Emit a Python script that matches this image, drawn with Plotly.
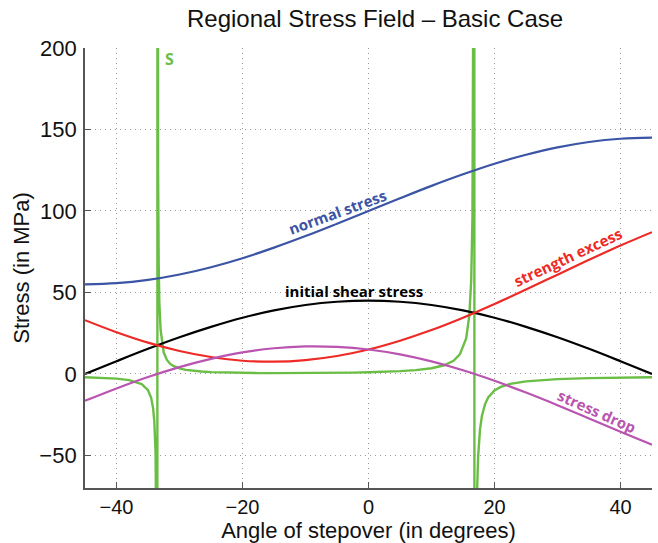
import plotly.graph_objects as go

# ---- data ----
angle = [-45, -40, -35, -30, -25, -20, -15, -10, -5, 0, 5, 10, 15, 20, 25, 30, 35, 40, 45]
normal_stress = [55, 55.7, 57.7, 61, 65.5, 71, 77.5, 84.6, 92.2, 100, 107.8, 115.4, 122.5, 129, 134.5, 139, 142.3, 144.3, 145]
shear_stress = [0, 7.8, 15.4, 22.5, 28.9, 34.5, 39, 42.3, 44.3, 45, 44.3, 42.3, 39, 34.5, 28.9, 22.5, 15.4, 7.8, 0]
strength_excess = [33, 25.6, 19.2, 14.1, 10.4, 8.1, 7.5, 8.5, 11, 15, 20.4, 26.9, 34.5, 42.9, 51.8, 60.9, 70, 78.8, 87]
stress_drop = [-16.5, -8.9, -1.9, 4.2, 9.25, 13.2, 15.75, 16.9, 16.6, 15, 12, 7.7, 2.25, -4.2, -11.45, -19.2, -27.3, -35.5, -43.5]

s_angle = [-45, -42.5, -40, -38, -36, -35, -34.5, -34.2, -34, -33.8, -33.7, -33.6, -33.53,
           -33.49, -33.45, -33.4, -33.3, -33.2, -33, -32.75, -32.5, -32, -31.5, -31, -30, -29,
           -28, -26.5, -25, -22.5, -20, -17.5, -15, -12.5, -10, -7.5, -5, -2.5, 0, 2.5, 5,
           7.5, 10, 12, 13.5, 14.5, 15.5, 16, 16.3, 16.5, 16.65, 16.72, 16.78, 16.84, 16.9,
           16.97, 17.05, 17.2, 17.4, 17.7, 18, 18.5, 19, 20, 21, 22.5, 25, 27.5, 30, 35, 40, 45]
s_value = [-2.0, -2.31, -2.88, -3.81, -6.28, -10.0, -14.7, -20.8, -29, -48, -72, -150, -700,
           700, 238, 126, 66.7, 44, 27.0, 17.9, 13.1, 8.6, 6.3, 4.93, 3.37, 2.5,
           1.96, 1.45, 1.12, 0.80, 0.62, 0.52, 0.48, 0.47, 0.50, 0.56, 0.66, 0.80, 1.0, 1.28, 1.70,
           2.36, 3.51, 5.31, 8.1, 12.0, 21.8, 35.8, 57, 96, 187, 330, 990, -990, -330,
           -186, -125, -77, -51, -34, -25.8, -18.5, -14.4, -10.2, -7.98, -6.12, -4.54, -3.69, -3.17, -2.56, -2.22, -2.0]

x_ticks = [-40, -20, 0, 20, 40]
y_ticks = [-50, 0, 50, 100, 150, 200]

BLUE = "#3B54A5"
RED = "#EE2A26"
BLACK = "#000000"
MAGENTA = "#B954B0"
GREEN = "#6BBE45"
FONT = "Liberation Sans, Arial, Helvetica, sans-serif"

fig = go.Figure()
fig.add_trace(go.Scatter(x=s_angle, y=s_value, mode="lines", line=dict(color=GREEN, width=2.4)))
fig.add_trace(go.Scatter(x=angle, y=normal_stress, mode="lines", line=dict(color=BLUE, width=2.2, shape="spline")))
fig.add_trace(go.Scatter(x=angle, y=shear_stress, mode="lines", line=dict(color=BLACK, width=2.2, shape="spline")))
fig.add_trace(go.Scatter(x=angle, y=strength_excess, mode="lines", line=dict(color=RED, width=2.2, shape="spline")))
fig.add_trace(go.Scatter(x=angle, y=stress_drop, mode="lines", line=dict(color=MAGENTA, width=2.2, shape="spline")))

ann_font = dict(family="Open Sans, Lato, sans-serif", size=15)
annotations = [
    dict(x=-31.6, y=193, text="<b>S</b>", font=dict(ann_font, color=GREEN, size=16), textangle=0),
    dict(x=-5.0, y=99.5, text="<b>normal stress</b>", font=dict(ann_font, color=BLUE), textangle=-20),
    dict(x=-2.3, y=51, text="<b>initial shear stress</b>", font=dict(ann_font, color=BLACK), textangle=0),
    dict(x=31.6, y=72, text="<b>strength excess</b>", font=dict(ann_font, color=RED), textangle=-25),
    dict(x=36.2, y=-23, text="<b>stress drop</b>", font=dict(ann_font, color=MAGENTA), textangle=24),
]
for a in annotations:
    fig.add_annotation(xref="x", yref="y", showarrow=False, **a)

axis_common = dict(
    showgrid=True, gridcolor="#999999", griddash="1px,4px", gridwidth=1,
    zeroline=False, showline=True, linecolor="#555555", linewidth=1.8,
    ticks="inside", ticklen=6, tickcolor="#555555", tickwidth=1.4,
    mirror=False,
)
fig.update_xaxes(range=[-45, 45], tickvals=x_ticks, ticklabelstandoff=0,
                 tickfont=dict(family=FONT, size=20, color="#111"),
                 title=dict(text="Angle of stepover (in degrees)",
                            font=dict(family=FONT, size=22, color="#111"), standoff=0), **axis_common)
fig.update_yaxes(range=[-70, 200], tickvals=y_ticks, ticklabelstandoff=2,
                 tickfont=dict(family=FONT, size=22, color="#111"),
                 title=dict(text="Stress (in MPa)",
                            font=dict(family=FONT, size=22, color="#111"), standoff=4), **axis_common)

fig.update_layout(
    width=658, height=543,
    margin=dict(l=85, r=6, t=48, b=55),
    paper_bgcolor="white", plot_bgcolor="white",
    showlegend=False,
    title=dict(text="Regional Stress Field \u2013 Basic Case", x=0.57, xanchor="center",
               y=0.965, yanchor="middle", font=dict(family=FONT, size=24, color="#111")),
)

fig.write_html("out.html")
